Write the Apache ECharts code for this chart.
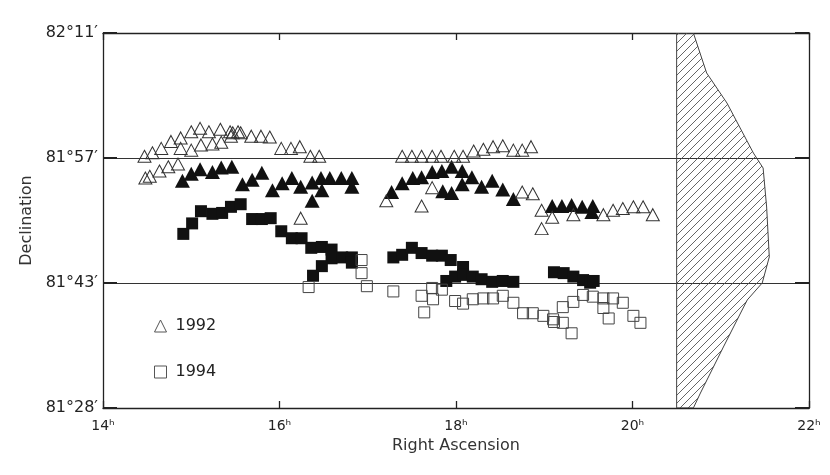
<!DOCTYPE html>
<html>
<head>
<meta charset="utf-8">
<script src="https://cdn.jsdelivr.net/npm/echarts@6/dist/echarts.min.js"></script>
<style>
html,body{margin:0;padding:0;background:#fff;}
#chart{width:830px;height:475px;}
</style>
</head>
<body>
<div id="chart"></div>
<script>
// Right ascension in hours, declination in arcminutes above 81°00′
const xTicks = [14, 16, 18, 20, 22];
const xTickLabels = ['14ʰ', '16ʰ', '18ʰ', '20ʰ', '22ʰ'];
const yTickLabels = ['81°28′', '81°43′', '81°57′', '82°11′'];

// 1992, open triangles
const open1992 = [
  [14.47,57.2],[14.56,57.6],[14.66,58.1],[14.77,58.9],[14.88,59.3],[15.00,60.0],[15.10,60.4],
  [15.20,60.0],[15.33,60.3],[15.44,60.0],[15.53,60.0],[15.56,59.9],[15.68,59.5],[15.79,59.5],
  [15.89,59.4],[16.02,58.1],[16.13,58.1],[16.23,58.3],[16.35,57.2],[16.45,57.2],
  [14.88,58.1],[15.00,57.9],[15.11,58.5],[15.24,58.6],[15.34,58.8],[15.45,59.5],[15.47,59.9],
  [14.48,54.7],[14.53,54.9],[14.64,55.5],[14.74,56.0],[14.85,56.3],
  [16.24,50.1],
  [17.39,57.2],[17.50,57.2],[17.61,57.2],[17.73,57.2],[17.83,57.2],[17.98,57.2],[18.08,57.2],
  [18.20,57.8],[18.31,58.0],[18.42,58.3],[18.53,58.4],[18.65,57.9],[18.75,57.9],[18.85,58.3],
  [17.21,52.1],[17.61,51.5],[17.73,53.6],[18.75,53.1],[18.87,52.9],
  [18.97,51.0],[19.09,50.2],[18.97,48.9],[19.33,50.5],[19.67,50.5],[19.78,51.0],[19.89,51.2],
  [20.01,51.4],[20.12,51.4],[20.23,50.5]
];
// 1992, filled triangles
const filled1992 = [
  [14.90,54.4],[15.00,55.2],[15.10,55.7],[15.24,55.4],[15.34,55.9],[15.46,56.0],
  [15.58,54.0],[15.69,54.5],[15.80,55.3],
  [15.92,53.3],[16.03,54.1],[16.14,54.7],[16.24,53.7],[16.37,54.2],[16.37,52.1],[16.47,54.7],
  [16.48,53.3],[16.57,54.7],[16.70,54.7],[16.82,54.7],[16.82,53.7],
  [17.27,53.1],[17.39,54.1],[17.51,54.7],[17.61,54.8],[17.73,55.4],[17.84,55.5],[17.95,56.0],
  [18.07,55.5],[18.18,54.8],[18.29,53.7],[18.41,54.4],[18.53,53.4],[18.65,52.3],
  [17.85,53.2],[17.95,53.0],[18.07,54.0],
  [19.09,51.5],[19.20,51.5],[19.31,51.6],[19.43,51.4],[19.55,51.5],[19.54,50.8]
];
// 1994, filled squares
const filled1994 = [
  [14.91,48.3],[15.01,49.5],[15.11,50.9],[15.24,50.6],[15.35,50.7],[15.45,51.4],[15.56,51.7],
  [15.69,50.0],[15.80,50.0],[15.90,50.1],[16.02,48.6],[16.14,47.8],[16.25,47.8],[16.36,46.7],
  [16.48,46.8],[16.59,46.5],[16.59,45.5],[16.71,45.6],[16.82,45.6],[16.82,45.0],[16.48,44.6],
  [16.38,43.5],
  [17.29,45.6],[17.39,45.9],[17.50,46.7],[17.61,46.1],[17.73,45.8],[17.84,45.8],[17.94,45.3],
  [18.08,44.5],[17.89,42.9],[17.99,43.4],[18.08,43.6],[18.19,43.4],[18.29,43.1],[18.41,42.8],
  [18.53,42.9],[18.65,42.8],
  [19.11,43.9],[19.22,43.8],[19.33,43.4],[19.44,43.0],[19.52,42.7],[19.56,42.9]
];
// 1994, open squares
const open1994 = [
  [16.93,45.3],[16.93,43.8],[16.99,42.3],[16.33,42.2],[17.29,41.7],[17.73,42.1],[17.61,41.2],
  [17.74,40.8],[17.84,41.9],[17.64,39.3],[17.99,40.6],[18.08,40.3],[18.19,40.8],[18.31,40.9],
  [18.42,40.9],[18.53,41.2],[18.65,40.4],[18.76,39.2],[18.87,39.2],[18.99,38.9],[19.10,38.5],
  [19.11,38.2],[19.21,38.1],[19.31,36.9],[19.21,39.9],[19.33,40.5],[19.44,41.3],[19.55,41.1],
  [19.67,40.9],[19.78,40.9],[19.67,39.8],[19.73,38.6],[19.89,40.4],[20.01,38.9],[20.09,38.1]
];
// hatched region boundary
const hatchBoundary = [
  [20.50,71.33],[20.69,71.33],[20.84,66.75],[21.07,63.31],[21.37,57.57],[21.48,55.85],
  [21.52,51.38],[21.55,45.65],[21.47,42.67],[21.30,40.72],[21.03,35.33],[20.77,30.05],
  [20.69,28.34],[20.50,28.34]
];

const toSec = arr => arr.map(([h, d]) => [h, d * 60]);
const hatchData = toSec(hatchBoundary);

// hatch pattern
const pc = document.createElement('canvas');
pc.width = 8; pc.height = 8;
const pctx = pc.getContext('2d');
pctx.strokeStyle = '#555';
pctx.lineWidth = 0.9;
pctx.beginPath();
pctx.moveTo(0, 8); pctx.lineTo(8, 0);
pctx.moveTo(-1, 1); pctx.lineTo(1, -1);
pctx.moveTo(7, 9); pctx.lineTo(9, 7);
pctx.stroke();
const hatchPattern = { type: 'pattern', image: pc, repeat: 'repeat' };

const FONT = 'DejaVu Sans';
const chart = echarts.init(document.getElementById('chart'));
const axisLineStyle = { color: '#222', width: 1.3 };

chart.setOption({
  animation: false,
  backgroundColor: '#fff',
  textStyle: { fontFamily: FONT },
  grid: { left: 103, right: 21, top: 33, bottom: 67 },
  legend: {
    data: ['1992', '1994'],
    orient: 'vertical',
    left: 154, top: 318, padding: 0,
    itemWidth: 12, itemHeight: 12, itemGap: 30,
    itemStyle: { color: 'rgba(255,255,255,0)', borderColor: '#555', borderWidth: 1 },
    textStyle: { fontFamily: FONT, fontSize: 16, color: '#222', padding: [4, 0, 0, 4] }
  },
  xAxis: [{
    type: 'value', min: 14, max: 22, interval: 2, position: 'bottom',
    name: 'Right Ascension', nameLocation: 'middle', nameGap: 29,
    nameTextStyle: { fontFamily: FONT, fontSize: 16, color: '#333' },
    axisLine: { show: true, lineStyle: axisLineStyle },
    axisTick: { show: true, inside: true, length: 7, lineStyle: { color: '#222', width: 1.3 } },
    axisLabel: { margin: 11, fontFamily: FONT, fontSize: 14, color: '#222',
      formatter: v => xTickLabels[xTicks.indexOf(v)] || '' },
    splitLine: { show: false }
  }, {
    type: 'value', min: 14, max: 22, interval: 2, position: 'top',
    axisLine: { show: true, lineStyle: axisLineStyle },
    axisTick: { show: true, inside: true, length: 7, lineStyle: { color: '#222', width: 1.3 } },
    axisLabel: { show: false },
    splitLine: { show: false }
  }],
  yAxis: [{
    type: 'value', min: 1700, max: 4280, interval: 860, position: 'left',
    name: 'Declination', nameLocation: 'middle', nameGap: 68,
    nameTextStyle: { fontFamily: FONT, fontSize: 16, color: '#333' },
    axisLine: { show: true, lineStyle: axisLineStyle },
    axisTick: { show: true, inside: true, length: 14, lineStyle: { color: '#222', width: 2 } },
    axisLabel: { margin: 5, fontFamily: FONT, fontSize: 16, color: '#222',
      formatter: (v, i) => yTickLabels[i] || '' },
    splitLine: { show: true, lineStyle: { color: '#333', width: 1 } }
  }, {
    type: 'value', min: 1700, max: 4280, interval: 860, position: 'right',
    axisLine: { show: true, lineStyle: axisLineStyle },
    axisTick: { show: true, inside: true, length: 14, lineStyle: { color: '#222', width: 2 } },
    axisLabel: { show: false },
    splitLine: { show: false }
  }],
  series: [
    {
      type: 'custom', name: 'region', xAxisIndex: 0, yAxisIndex: 0,
      data: hatchData, silent: true, clip: true,
      renderItem: (params, api) => {
        if (params.dataIndex !== 0) return null;
        const pts = hatchData.map(p => api.coord(p));
        return { type: 'polygon', shape: { points: pts },
          style: { fill: hatchPattern, stroke: '#444', lineWidth: 1 } };
      }
    },
    {
      type: 'scatter', name: '1992 filled', data: toSec(filled1992),
      symbol: 'triangle', symbolSize: [15, 14],
      itemStyle: { color: '#111', opacity: 1 }
    },
    {
      type: 'scatter', name: '1994 filled', data: toSec(filled1994),
      symbol: 'rect', symbolSize: 12,
      itemStyle: { color: '#111', opacity: 1 }
    },
    {
      type: 'scatter', name: '1992', data: toSec(open1992),
      symbol: 'triangle', symbolSize: [13, 12],
      itemStyle: { color: 'rgba(255,255,255,0)', borderColor: '#333', borderWidth: 1, opacity: 1 }
    },
    {
      type: 'scatter', name: '1994', data: toSec(open1994),
      symbol: 'rect', symbolSize: 11,
      itemStyle: { color: 'rgba(255,255,255,0)', borderColor: '#444', borderWidth: 1, opacity: 1 }
    }
  ]
});
</script>
</body>
</html>
